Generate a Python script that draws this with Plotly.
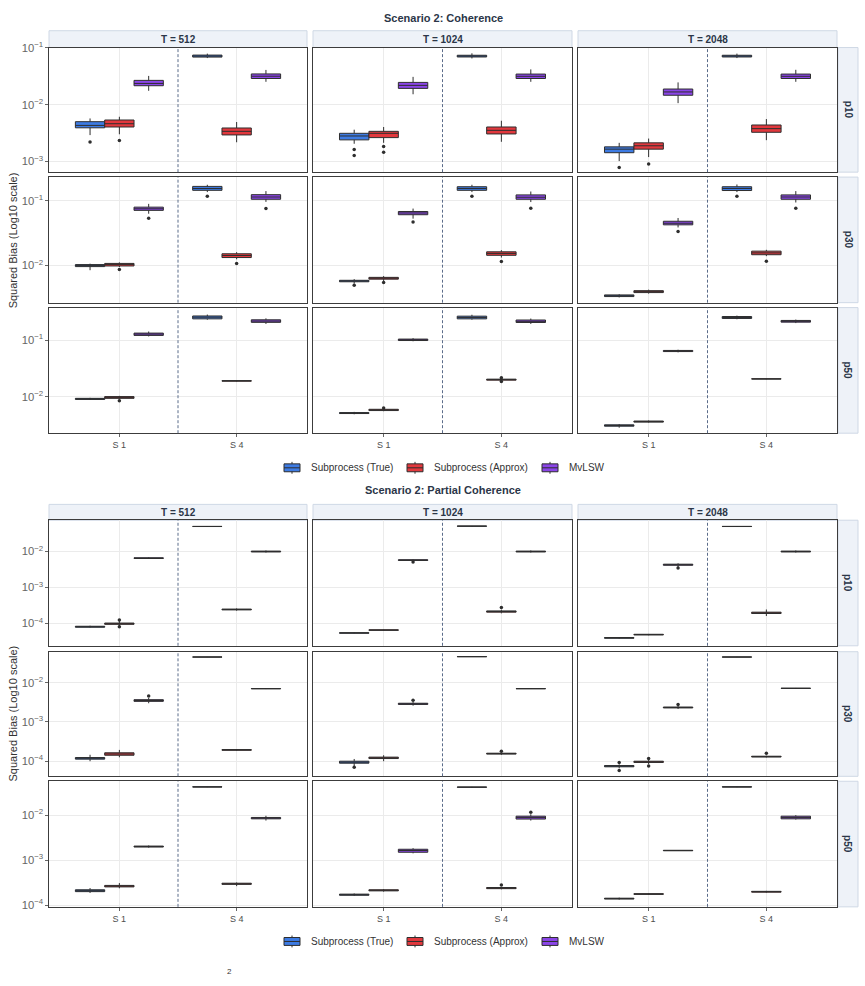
import plotly.graph_objects as go

# ---------------- data ----------------
methods = ["Subprocess (True)", "Subprocess (Approx)", "MvLSW"]
method_colors = ["#3D7BE3", "#E2383D", "#8B45E8"]
series_labels = ["S 1", "S 4"]
T_labels = ["T = 512", "T = 1024", "T = 2048"]
p_labels = ["p10", "p30", "p50"]
scenario_titles = ["Scenario 2: Coherence", "Scenario 2: Partial Coherence"]
y_title = "Squared Bias (Log10 scale)"

# box order: True S1, Approx S1, MvLSW S1, True S4, Approx S4, MvLSW S4
# values: lower whisker, Q1, median, Q3, upper whisker
coh_p10_T512 = [(2.9e-3, 3.9e-3, 4.3e-3, 5.0e-3, 5.7e-3), (3.0e-3, 4.03e-3, 4.6e-3, 5.35e-3, 6.1e-3),
                (1.75e-2, 2.15e-2, 2.36e-2, 2.67e-2, 3.2e-2), (6.6e-2, 6.87e-2, 7.15e-2, 7.45e-2, 7.9e-2),
                (2.17e-3, 2.92e-3, 3.38e-3, 3.87e-3, 4.93e-3), (2.52e-2, 2.88e-2, 3.16e-2, 3.47e-2, 4.08e-2)]
coh_p10_T1024 = [(2.04e-3, 2.39e-3, 2.8e-3, 3.12e-3, 3.61e-3), (2.12e-3, 2.62e-3, 3.12e-3, 3.38e-3, 4.03e-3),
                 (1.52e-2, 1.93e-2, 2.18e-2, 2.46e-2, 3.08e-2), (6.5e-2, 6.9e-2, 7.15e-2, 7.4e-2, 8.0e-2),
                 (2.21e-3, 3.04e-3, 3.52e-3, 4.03e-3, 5.19e-3), (2.52e-2, 2.88e-2, 3.15e-2, 3.45e-2, 4.17e-2)]
coh_p10_T2048 = [(1.01e-3, 1.42e-3, 1.64e-3, 1.8e-3, 2.12e-3), (1.19e-3, 1.64e-3, 1.88e-3, 2.12e-3, 2.52e-3),
                 (1.06e-2, 1.46e-2, 1.67e-2, 1.88e-2, 2.46e-2), (6.6e-2, 6.9e-2, 7.15e-2, 7.4e-2, 7.9e-2),
                 (2.36e-3, 3.25e-3, 3.77e-3, 4.37e-3, 5.56e-3), (2.52e-2, 2.88e-2, 3.15e-2, 3.45e-2, 4.1e-2)]
coh_p30_T512 = [(8.4e-3, 9.55e-3, 9.9e-3, 1.026e-2, 1.06e-2), (9.4e-3, 9.77e-3, 1.035e-2, 1.07e-2, 1.11e-2),
                (6.32e-2, 7.13e-2, 7.55e-2, 8.0e-2, 9.0e-2), (0.137, 0.146, 0.156, 0.168, 0.178),
                (1.24e-2, 1.32e-2, 1.42e-2, 1.51e-2, 1.6e-2), (9.66e-2, 0.106, 0.115, 0.125, 0.142)]
coh_p30_T1024 = [(5.2e-3, 5.55e-3, 5.7e-3, 5.85e-3, 6.1e-3), (5.7e-3, 6.1e-3, 6.3e-3, 6.5e-3, 6.8e-3),
                 (5.3e-2, 6.1e-2, 6.5e-2, 6.85e-2, 7.6e-2), (0.137, 0.146, 0.156, 0.166, 0.178),
                 (1.32e-2, 1.43e-2, 1.53e-2, 1.62e-2, 1.72e-2), (9.6e-2, 0.106, 0.114, 0.124, 0.14)]
coh_p30_T2048 = [(3.17e-3, 3.27e-3, 3.37e-3, 3.47e-3, 3.56e-3), (3.64e-3, 3.77e-3, 3.9e-3, 4.04e-3, 4.19e-3),
                 (3.87e-2, 4.25e-2, 4.5e-2, 4.83e-2, 5.43e-2), (0.137, 0.145, 0.156, 0.166, 0.18),
                 (1.39e-2, 1.46e-2, 1.56e-2, 1.66e-2, 1.74e-2), (9.45e-2, 0.106, 0.115, 0.124, 0.142)]
coh_p50_T512 = [(8.7e-3, 8.9e-3, 9.12e-3, 9.3e-3, 9.5e-3), (9.0e-3, 9.3e-3, 9.77e-3, 1.0e-2, 1.03e-2),
                (0.117, 0.122, 0.129, 0.134, 0.143), (0.232, 0.24, 0.257, 0.27, 0.286),
                (1.85e-2, 1.88e-2, 1.9e-2, 1.92e-2, 1.95e-2), (0.195, 0.208, 0.219, 0.231, 0.245)]
coh_p50_T1024 = [(4.85e-3, 5.0e-3, 5.1e-3, 5.2e-3, 5.35e-3), (5.5e-3, 5.65e-3, 5.8e-3, 5.95e-3, 6.1e-3),
                 (9.6e-2, 0.099, 0.102, 0.105, 0.109), (0.232, 0.24, 0.254, 0.268, 0.284),
                 (1.9e-2, 1.96e-2, 2.0e-2, 2.04e-2, 2.1e-2), (0.195, 0.207, 0.217, 0.229, 0.243)]
coh_p50_T2048 = [(2.8e-3, 2.98e-3, 3.07e-3, 3.15e-3, 3.25e-3), (3.45e-3, 3.52e-3, 3.6e-3, 3.68e-3, 3.76e-3),
                 (6.1e-2, 6.3e-2, 6.45e-2, 6.6e-2, 6.8e-2), (0.236, 0.244, 0.254, 0.264, 0.274),
                 (2.03e-2, 2.05e-2, 2.06e-2, 2.07e-2, 2.09e-2), (0.202, 0.21, 0.217, 0.225, 0.233)]

pc_p10_T512 = [(7.6e-5, 7.8e-5, 8.05e-5, 8.3e-5, 8.6e-5), (8.2e-5, 9.4e-5, 9.8e-5, 1.02e-4, 1.2e-4),
               (6.2e-3, 6.4e-3, 6.56e-3, 6.7e-3, 6.9e-3), (4.95e-2, 4.98e-2, 5.0e-2, 5.02e-2, 5.05e-2),
               (2.25e-4, 2.37e-4, 2.43e-4, 2.5e-4, 2.6e-4), (9.4e-3, 9.75e-3, 1.0e-2, 1.03e-2, 1.07e-2)]
pc_p10_T1024 = [(5.2e-5, 5.3e-5, 5.4e-5, 5.5e-5, 5.6e-5), (6.3e-5, 6.4e-5, 6.5e-5, 6.6e-5, 6.7e-5),
                (5.5e-3, 5.65e-3, 5.78e-3, 5.9e-3, 6.05e-3), (5.05e-2, 5.08e-2, 5.1e-2, 5.12e-2, 5.15e-2),
                (1.9e-4, 2.05e-4, 2.14e-4, 2.22e-4, 2.4e-4), (9.4e-3, 9.75e-3, 1.0e-2, 1.03e-2, 1.07e-2)]
pc_p10_T2048 = [(3.75e-5, 3.85e-5, 3.94e-5, 4.03e-5, 4.12e-5), (4.65e-5, 4.76e-5, 4.86e-5, 4.96e-5, 5.07e-5),
                (3.7e-3, 4.15e-3, 4.3e-3, 4.45e-3, 4.7e-3), (4.95e-2, 4.98e-2, 5.0e-2, 5.02e-2, 5.05e-2),
                (1.6e-4, 1.88e-4, 1.96e-4, 2.05e-4, 2.43e-4), (9.4e-3, 9.75e-3, 1.0e-2, 1.03e-2, 1.07e-2)]
pc_p30_T512 = [(1.0e-4, 1.13e-4, 1.19e-4, 1.24e-4, 1.46e-4), (1.26e-4, 1.42e-4, 1.53e-4, 1.64e-4, 1.94e-4),
               (3.0e-3, 3.35e-3, 3.52e-3, 3.7e-3, 4.1e-3), (4.48e-2, 4.5e-2, 4.52e-2, 4.54e-2, 4.56e-2),
               (1.85e-4, 1.9e-4, 1.94e-4, 1.98e-4, 2.03e-4), (6.9e-3, 7.0e-3, 7.06e-3, 7.12e-3, 7.2e-3)]
pc_p30_T1024 = [(7.5e-5, 8.9e-5, 9.44e-5, 1.0e-4, 1.14e-4), (1.0e-4, 1.17e-4, 1.22e-4, 1.27e-4, 1.42e-4),
                (2.6e-3, 2.8e-3, 2.9e-3, 3.0e-3, 3.3e-3), (4.58e-2, 4.6e-2, 4.62e-2, 4.64e-2, 4.66e-2),
                (1.45e-4, 1.52e-4, 1.56e-4, 1.6e-4, 1.68e-4), (6.95e-3, 7.02e-3, 7.06e-3, 7.1e-3, 7.18e-3)]
pc_p30_T2048 = [(6.6e-5, 7.2e-5, 7.48e-5, 7.75e-5, 8.3e-5), (8.4e-5, 9.3e-5, 9.66e-5, 1.0e-4, 1.08e-4),
                (2.15e-3, 2.28e-3, 2.34e-3, 2.4e-3, 2.55e-3), (4.48e-2, 4.5e-2, 4.52e-2, 4.54e-2, 4.56e-2),
                (1.25e-4, 1.28e-4, 1.31e-4, 1.34e-4, 1.38e-4), (7.05e-3, 7.15e-3, 7.2e-3, 7.25e-3, 7.35e-3)]
pc_p50_T512 = [(1.87e-4, 2.0e-4, 2.1e-4, 2.2e-4, 2.4e-4), (2.37e-4, 2.55e-4, 2.65e-4, 2.75e-4, 3.1e-4),
               (1.9e-3, 1.96e-3, 2.01e-3, 2.06e-3, 2.12e-3), (4.2e-2, 4.23e-2, 4.25e-2, 4.27e-2, 4.3e-2),
               (2.65e-4, 2.9e-4, 2.99e-4, 3.08e-4, 3.2e-4), (7.6e-3, 8.3e-3, 8.6e-3, 8.9e-3, 9.7e-3)]
pc_p50_T1024 = [(1.6e-4, 1.66e-4, 1.71e-4, 1.76e-4, 1.82e-4), (2.0e-4, 2.08e-4, 2.14e-4, 2.2e-4, 2.28e-4),
                (1.42e-3, 1.5e-3, 1.64e-3, 1.75e-3, 1.85e-3), (4.15e-2, 4.18e-2, 4.2e-2, 4.22e-2, 4.25e-2),
                (2.25e-4, 2.33e-4, 2.4e-4, 2.47e-4, 2.55e-4), (7.6e-3, 8.2e-3, 8.85e-3, 9.5e-3, 1.05e-2)]
pc_p50_T2048 = [(1.33e-4, 1.37e-4, 1.4e-4, 1.43e-4, 1.47e-4), (1.7e-4, 1.74e-4, 1.77e-4, 1.8e-4, 1.84e-4),
                (1.6e-3, 1.62e-3, 1.64e-3, 1.66e-3, 1.68e-3), (4.2e-2, 4.23e-2, 4.25e-2, 4.27e-2, 4.3e-2),
                (1.9e-4, 1.95e-4, 1.99e-4, 2.03e-4, 2.08e-4), (8.0e-3, 8.3e-3, 8.85e-3, 9.5e-3, 1.0e-2)]

# outliers: (method index, series index, value)
coh_p10_T512_out = [(0, 0, 2.2e-3), (1, 0, 2.33e-3)]
coh_p10_T1024_out = [(0, 0, 1.62e-3), (0, 0, 1.27e-3), (1, 0, 1.83e-3), (1, 0, 1.44e-3)]
coh_p10_T2048_out = [(0, 0, 7.8e-4), (1, 0, 9.0e-4)]
coh_p30_T512_out = [(1, 0, 8.6e-3), (2, 0, 5.37e-2), (0, 1, 0.118), (1, 1, 1.07e-2), (2, 1, 7.64e-2)]
coh_p30_T1024_out = [(0, 0, 4.9e-3), (1, 0, 5.4e-3), (2, 0, 4.7e-2), (0, 1, 0.118), (1, 1, 1.15e-2), (2, 1, 7.7e-2)]
coh_p30_T2048_out = [(2, 0, 3.36e-2), (0, 1, 0.118), (1, 1, 1.16e-2), (2, 1, 7.7e-2)]
coh_p50_T512_out = [(1, 0, 8.4e-3)]
coh_p50_T1024_out = [(1, 0, 6.3e-3), (1, 1, 1.85e-2), (1, 1, 2.15e-2)]
coh_p50_T2048_out = []
pc_p10_T512_out = [(1, 0, 1.24e-4), (1, 0, 8.0e-5)]
pc_p10_T1024_out = [(2, 0, 5.1e-3), (1, 1, 2.75e-4)]
pc_p10_T2048_out = [(2, 0, 3.5e-3)]
pc_p30_T512_out = [(2, 0, 4.6e-3)]
pc_p30_T1024_out = [(0, 0, 7.0e-5), (2, 0, 3.58e-3), (1, 1, 1.8e-4)]
pc_p30_T2048_out = [(0, 0, 9.3e-5), (0, 0, 5.8e-5), (1, 0, 1.17e-4), (1, 0, 7.5e-5), (2, 0, 2.8e-3), (1, 1, 1.6e-4)]
pc_p50_T512_out = []
pc_p50_T1024_out = [(1, 1, 2.8e-4), (2, 1, 1.16e-2)]
pc_p50_T2048_out = []

panels = [
    [[coh_p10_T512, coh_p10_T1024, coh_p10_T2048],
     [coh_p30_T512, coh_p30_T1024, coh_p30_T2048],
     [coh_p50_T512, coh_p50_T1024, coh_p50_T2048]],
    [[pc_p10_T512, pc_p10_T1024, pc_p10_T2048],
     [pc_p30_T512, pc_p30_T1024, pc_p30_T2048],
     [pc_p50_T512, pc_p50_T1024, pc_p50_T2048]],
]
panel_outliers = [
    [[coh_p10_T512_out, coh_p10_T1024_out, coh_p10_T2048_out],
     [coh_p30_T512_out, coh_p30_T1024_out, coh_p30_T2048_out],
     [coh_p50_T512_out, coh_p50_T1024_out, coh_p50_T2048_out]],
    [[pc_p10_T512_out, pc_p10_T1024_out, pc_p10_T2048_out],
     [pc_p30_T512_out, pc_p30_T1024_out, pc_p30_T2048_out],
     [pc_p50_T512_out, pc_p50_T1024_out, pc_p50_T2048_out]],
]

# ---------------- layout geometry (pixels) ----------------
W, H = 865, 986
col_px = [(49, 307), (313, 572), (578, 837)]
row_px = [[(41, 167), (172, 299), (304, 431)], [(519, 646), (652, 778), (783, 910)]]
y_ranges = [[(-3.19, -0.995), (-2.58, -0.63), (-2.65, -0.42)],
            [(-4.625, -1.127), (-4.385, -1.21), (-4.037, -1.246)]]
strip_top = [24, 503]
title_y = [11, 488]
legend_y = [466, 945]
legend_icon_x = [284, 407, 542]
legend_text_x = [309, 432, 567]

dodge = 0.25
FONT = "Liberation Sans, Arial, sans-serif"
GRID = "#EBEBEB"
BORDER = "#3C3C3C"
STRIP_FILL = "#EEF2F8"
STRIP_LINE = "#CFD8E5"
TXT = "#2B3648"
TICK_TXT = "#666666"


def px_x(p):
    return p / W


def px_y(p):
    return 1 - p / H


fig = go.Figure()
layout = dict(width=W, height=H, margin=dict(l=0, r=0, t=0, b=0),
              paper_bgcolor="white", plot_bgcolor="white", showlegend=False,
              font=dict(family=FONT, color="#333", size=10))
shapes = []
annotations = []

for b in range(2):
    for r in range(3):
        for c in range(3):
            k = b * 9 + r * 3 + c + 1
            xa = "x" if k == 1 else f"x{k}"
            ya = "y" if k == 1 else f"y{k}"
            xkey = "xaxis" if k == 1 else f"xaxis{k}"
            ykey = "yaxis" if k == 1 else f"yaxis{k}"
            x0, x1 = col_px[c]
            y0, y1 = row_px[b][r]
            layout[xkey] = dict(domain=[px_x(x0), px_x(x1)], anchor=ya, range=[0.4, 2.6],
                                tickvals=[1, 2], ticktext=series_labels,
                                showticklabels=(r == 2), ticks="outside" if r == 2 else "",
                                ticklen=3, tickcolor="#666", tickfont=dict(size=9, color="#4D4D4D"),
                                showgrid=True, gridcolor=GRID, gridwidth=1, zeroline=False,
                                showline=True, mirror=True, linecolor=BORDER, linewidth=1)
            layout[ykey] = dict(domain=[px_y(y1), px_y(y0)], anchor=xa, type="log",
                                range=list(y_ranges[b][r]), dtick=1, exponentformat="power",
                                showticklabels=(c == 0), ticks="outside" if c == 0 else "",
                                ticklen=3, tickcolor="#666", tickfont=dict(size=9, color=TICK_TXT),
                                showgrid=True, gridcolor=GRID, gridwidth=1, zeroline=False,
                                showline=True, mirror=True, linecolor=BORDER, linewidth=1)
            stats = panels[b][r][c]
            for m in range(3):
                xs, lf, q1, md, q3, uf = [], [], [], [], [], []
                for s in range(2):
                    v = stats[s * 3 + m]
                    xs.append(s + 1 + (m - 1) * dodge)
                    lf.append(v[0]); q1.append(v[1]); md.append(v[2]); q3.append(v[3]); uf.append(v[4])
                fig.add_trace(go.Box(x=xs, lowerfence=lf, q1=q1, median=md, q3=q3, upperfence=uf,
                                     orientation="v", width=dodge, whiskerwidth=0, boxpoints=False,
                                     fillcolor=method_colors[m], line=dict(color="#2E2E2E", width=1),
                                     xaxis=xa, yaxis=ya, name=methods[m], hoverinfo="skip"))
            outs = panel_outliers[b][r][c]
            if outs:
                fig.add_trace(go.Scatter(x=[o[1] + 1 + (o[0] - 1) * dodge for o in outs],
                                         y=[o[2] for o in outs], mode="markers",
                                         marker=dict(size=3.5, color="#2E2E2E"),
                                         xaxis=xa, yaxis=ya, hoverinfo="skip"))
            shapes.append(dict(type="line", xref=xa, yref=f"{ya} domain", x0=1.5, x1=1.5, y0=0, y1=1,
                               line=dict(color="#5B6C8A", width=1, dash="3px,2px")))

    # column strips
    for c in range(3):
        x0, x1 = col_px[c]
        shapes.append(dict(type="rect", xref="paper", yref="paper", x0=px_x(x0), x1=px_x(x1),
                           y0=px_y(row_px[b][0][0]), y1=px_y(strip_top[b]),
                           fillcolor=STRIP_FILL, line=dict(color=STRIP_LINE, width=1), layer="below"))
        annotations.append(dict(xref="paper", yref="paper", x=px_x((x0 + x1) / 2),
                                y=px_y((strip_top[b] + row_px[b][0][0]) / 2),
                                text=f"<b>{T_labels[c]}</b>", showarrow=False,
                                font=dict(size=10, color=TXT), xanchor="center", yanchor="middle"))
    # row strips
    for r in range(3):
        y0, y1 = row_px[b][r]
        shapes.append(dict(type="rect", xref="paper", yref="paper", x0=px_x(838), x1=px_x(858),
                           y0=px_y(y1), y1=px_y(y0),
                           fillcolor=STRIP_FILL, line=dict(color=STRIP_LINE, width=1), layer="below"))
        annotations.append(dict(xref="paper", yref="paper", x=px_x(848), y=px_y((y0 + y1) / 2),
                                text=f"<b>{p_labels[r]}</b>", showarrow=False, textangle=90,
                                font=dict(size=10, color=TXT), xanchor="center", yanchor="middle"))
    # title
    annotations.append(dict(xref="paper", yref="paper", x=px_x(443), y=px_y(title_y[b]),
                            text=f"<b>{scenario_titles[b]}</b>", showarrow=False,
                            font=dict(size=11, color=TXT), xanchor="center", yanchor="middle"))
    # y title
    annotations.append(dict(xref="paper", yref="paper", x=px_x(13),
                            y=px_y((row_px[b][0][0] + row_px[b][2][1]) / 2),
                            text=y_title, showarrow=False, textangle=-90,
                            font=dict(size=11, color="#333"), xanchor="center", yanchor="middle"))
    # legend
    ly = legend_y[b]
    for m in range(3):
        ix = legend_icon_x[m]
        shapes.append(dict(type="line", xref="paper", yref="paper", x0=px_x(ix + 8), x1=px_x(ix + 8),
                           y0=px_y(ly - 6), y1=px_y(ly + 6), line=dict(color="#2E2E2E", width=1)))
        shapes.append(dict(type="rect", xref="paper", yref="paper", x0=px_x(ix), x1=px_x(ix + 16),
                           y0=px_y(ly + 4), y1=px_y(ly - 4), fillcolor=method_colors[m],
                           line=dict(color="#2E2E2E", width=1)))
        shapes.append(dict(type="line", xref="paper", yref="paper", x0=px_x(ix), x1=px_x(ix + 16),
                           y0=px_y(ly), y1=px_y(ly), line=dict(color="#2E2E2E", width=1)))
        annotations.append(dict(xref="paper", yref="paper", x=px_x(legend_text_x[m]), y=px_y(ly),
                                text=methods[m], showarrow=False, font=dict(size=10, color="#333"),
                                xanchor="left", yanchor="middle"))

annotations.append(dict(xref="paper", yref="paper", x=px_x(230), y=px_y(975), text="2",
                        showarrow=False, font=dict(size=8, color="#333"), xanchor="center", yanchor="middle"))

layout["shapes"] = shapes
layout["annotations"] = annotations
fig.update_layout(**layout)
fig.write_html("out.html")
